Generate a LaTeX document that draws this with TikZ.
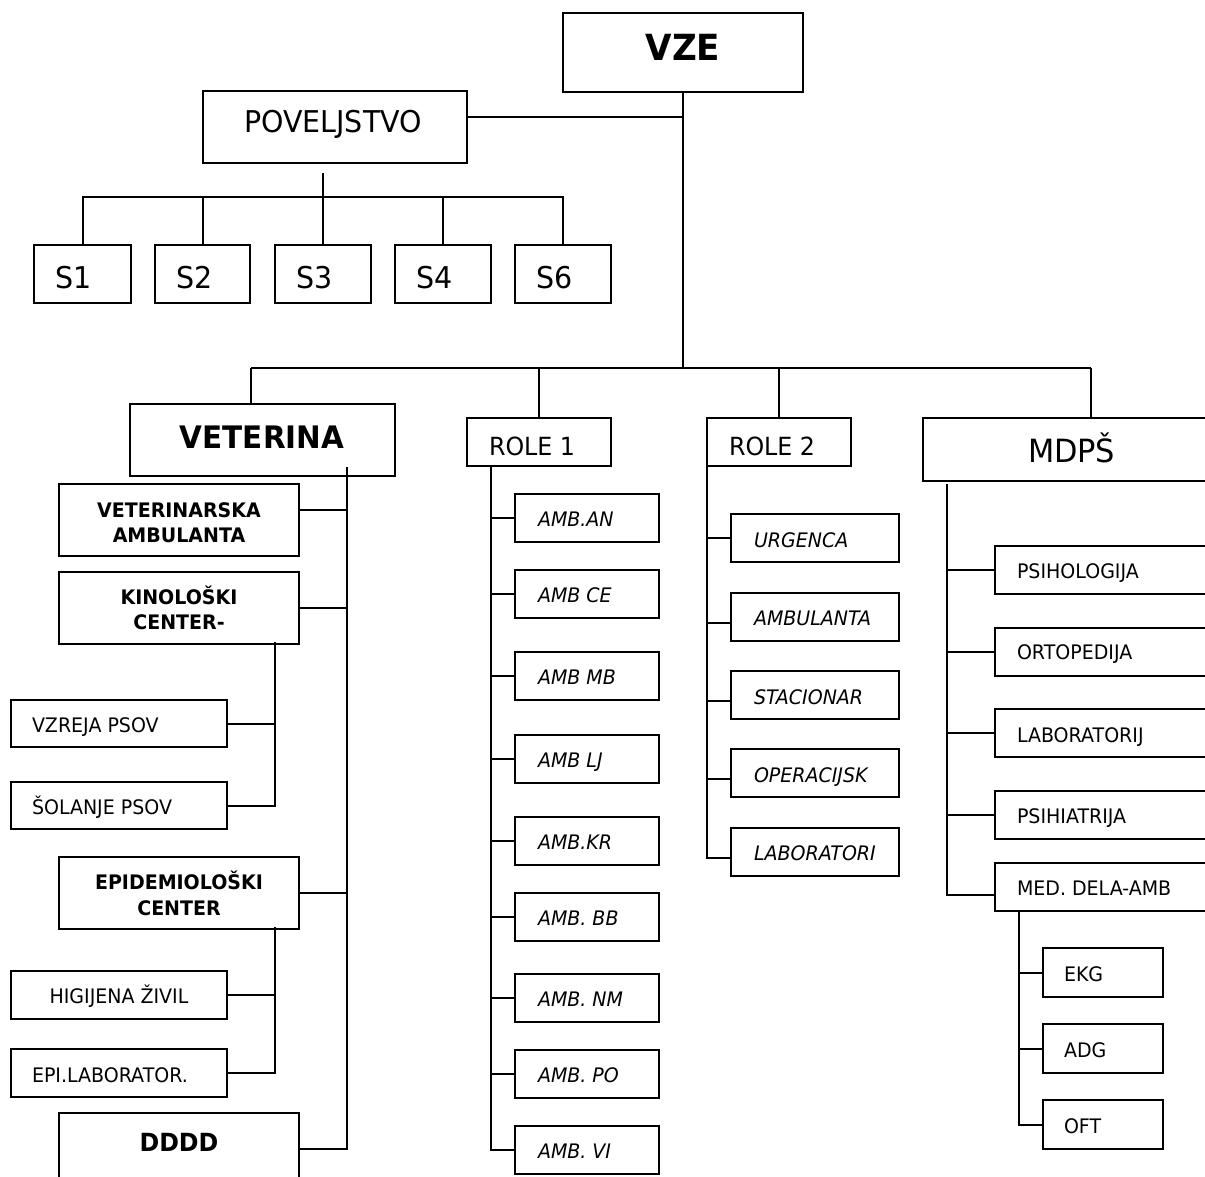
\documentclass[tikz,border=0pt]{standalone}
\usepackage{fontspec}
\setmainfont{DejaVu Sans}[FakeStretch=0.95]
\newcommand\obox[5]{\node[box, minimum width={#4-#2}, minimum height={#5-#3}] (#1) at (#2,#3) {};}
\begin{document}
\begin{tikzpicture}[x=1pt,y=-1pt, line width=2pt,
  box/.style={draw, line width=2pt, rectangle, inner sep=0pt, outer sep=0pt, anchor=north west},
  lw/.style={inner sep=0pt, anchor=base west},
  lc/.style={inner sep=0pt, anchor=base},
  f20/.style={font=\fontsize{20}{24}\selectfont},
  f20b/.style={font=\fontsize{20}{24}\selectfont\bfseries},
  f20i/.style={font=\fontsize{20}{24}\selectfont\itshape},
  f25/.style={font=\fontsize{25}{30}\selectfont},
  f30/.style={font=\fontsize{30}{36}\selectfont}]
\useasboundingbox (0,0) rectangle (1205,1177);
\clip (0,0) rectangle (1205,1177);

% ---------- boxes ----------
\obox{vze}{563}{13}{803}{92}
\obox{pov}{203}{91}{467}{163}
\obox{s1}{34}{245}{131}{303}
\obox{s2}{155}{245}{250}{303}
\obox{s3}{275}{245}{371}{303}
\obox{s4}{395}{245}{491}{303}
\obox{s6}{515}{245}{611}{303}
\obox{vet}{130}{404}{395}{476}
\obox{va}{59}{484}{299}{556}
\obox{kc}{59}{572}{299}{644}
\obox{vp}{11}{700}{227}{747}
\obox{sp}{11}{782}{227}{829}
\obox{ec}{59}{857}{299}{929}
\obox{hz}{11}{971}{227}{1019}
\obox{el}{11}{1049}{227}{1097}
\obox{dd}{59}{1113}{299}{1185}
\obox{r1}{467}{418}{611}{466}
\obox{r2}{707}{418}{851}{466}
\obox{md}{923}{418}{1259}{481}
\foreach \n/\t in {a1/494,a2/570,a3/652,a4/735,a5/817,a6/893,a7/974,a8/1050,a9/1126}
  {\node[box, minimum width=144, minimum height=48] (\n) at (515,\t) {};}
\foreach \n/\t in {u1/514,u2/593,u3/671,u4/749,u5/828}
  {\node[box, minimum width=168, minimum height=48] (\n) at (731,\t) {};}
\foreach \n/\t in {m1/546,m2/628,m3/709,m4/791,m5/863}
  {\node[box, minimum width=240, minimum height=48] (\n) at (995,\t) {};}
\foreach \n/\t in {e1/948,e2/1024,e3/1100}
  {\node[box, minimum width=120, minimum height=49] (\n) at (1043,\t) {};}

% ---------- texts ----------
\node[lc, font=\fontsize{36}{40}\selectfont\bfseries] (tvze) at (683,61) {VZE};
\node[lw, f30] (tpov) at (243,133) {POVELJSTVO};
\node[lw, f30] (ts1) at (54,288) {S1};
\node[lw, f30] (ts2) at (175,288) {S2};
\node[lw, f30] (ts3) at (295,288) {S3};
\node[lw, f30] (ts4) at (415,288) {S4};
\node[lw, f30] (ts6) at (535,288) {S6};
\node[lc, font=\fontsize{31}{36}\selectfont\bfseries] (tvet) at (262,448) {VETERINA};
\node[lc, f20b] (tva1) at (179,517) {VETERINARSKA};
\node[lc, f20b] (tva2) at (179,542) {AMBULANTA};
\node[lc, f20b] (tkc1) at (179,604) {KINOLOŠKI};
\node[lc, f20b] (tkc2) at (179,629) {CENTER-};
\node[lw, f20] (tvp) at (31,732) {VZREJA PSOV};
\node[lw, f20] (tsp) at (31,814) {ŠOLANJE PSOV};
\node[lc, f20b] (tec1) at (179,889) {EPIDEMIOLOŠKI};
\node[lc, f20b] (tec2) at (179,915) {CENTER};
\node[lc, f20] (thz) at (119,1003) {HIGIJENA ŽIVIL};
\node[lw, f20] (tel) at (31,1082) {EPI.LABORATOR.};
\node[lc, font=\fontsize{25}{30}\selectfont\bfseries] (tdd) at (179,1151) {DDDD};
\node[lw, f25] (tr1) at (488,455) {ROLE 1};
\node[lw, f25] (tr2) at (728,455) {ROLE 2};
\foreach \n/\b/\s in {a1/526/AMB.AN,a2/602/AMB CE,a3/684/AMB MB,a4/767/AMB LJ,a5/849/AMB.KR,a6/925/AMB. BB,a7/1006/AMB. NM,a8/1082/AMB. PO,a9/1158/AMB. VI}
  {\node[lw, f20i] (t\n) at (537,\b) {\s};}
\foreach \n/\b/\s in {u1/547/URGENCA,u2/625/AMBULANTA,u3/704/STACIONAR,u4/782/OPERACIJSK,u5/860/LABORATORI}
  {\node[lw, f20i] (t\n) at (753,\b) {\s};}
\node[lw, font=\fontsize{32}{38}\selectfont] (tmd) at (1027,462) {MDPŠ};
\foreach \n/\b/\s in {m1/578/PSIHOLOGIJA,m2/659/ORTOPEDIJA,m3/742/LABORATORIJ,m4/823/PSIHIATRIJA,m5/895/MED. DELA-AMB}
  {\node[lw, f20] (t\n) at (1016,\b) {\s};}
\foreach \n/\b/\s in {e1/981/EKG,e2/1057/ADG,e3/1133/OFT}
  {\node[lw, f20] (t\n) at (1063,\b) {\s};}

% ---------- connectors ----------
\coordinate (busL) at (251,368);
\coordinate (busR) at (1091,368);
\draw (busL) -- (busR);
\draw (vze.south) -- (vze.south |- busL);
\draw ([yshift=10pt]pov.east) -- ([yshift=10pt]pov.east -| vze.south);
\draw (busL) -- (busL |- vet.north);
\draw (r1.north |- busL) -- (r1.north);
\draw (r2.north |- busL) -- (r2.north);
\draw (busR) -- (busR |- md.north);

\coordinate (povd) at (323,173);
\coordinate (sb) at (323,197);
\draw (povd) -- (sb);
\draw (s1.north) |- (s6.north |- sb) -- (s6.north);
\foreach \n in {s2,s3,s4} {\draw (\n.north) -- (\n.north |- sb);}

\coordinate (vs) at (347,467);
\draw (vs) |- (dd.east);
\draw ([yshift=10pt]va.east) -- ([yshift=10pt]va.east -| vs);
\draw (kc.east) -- (kc.east -| vs);
\draw (ec.east) -- (ec.east -| vs);

\coordinate (ks) at (275,642);
\draw (ks) |- (sp.east);
\draw (vp.east) -- (vp.east -| ks);
\coordinate (es) at (275,927);
\draw (es) |- (el.east);
\draw (hz.east) -- (hz.east -| es);

\coordinate (r1s) at (491,466);
\draw (r1s) |- (a9.west);
\foreach \n in {a1,a2,a3,a4,a5,a6,a7,a8} {\draw (\n.west) -- (\n.west -| r1s);}

\coordinate (r2s) at (707,466);
\draw ([yshift=-6pt]u5.west) -| (r2s);
\draw (u1.west) -- (u1.west -| r2s);
\foreach \n in {u2,u3,u4} {\draw ([yshift=-6pt]\n.west) -- ([yshift=-6pt]\n.west -| r2s);}

\coordinate (ms) at (947,484);
\draw ([yshift=-8pt]m5.west) -| (ms);
\foreach \n in {m1,m2,m3,m4} {\draw (\n.west) -- (\n.west -| ms);}

\coordinate (mes) at (1019,912);
\draw (e3.west) -| (mes);
\foreach \n in {e1,e2} {\draw (\n.west) -- (\n.west -| mes);}
\end{tikzpicture}
\end{document}
